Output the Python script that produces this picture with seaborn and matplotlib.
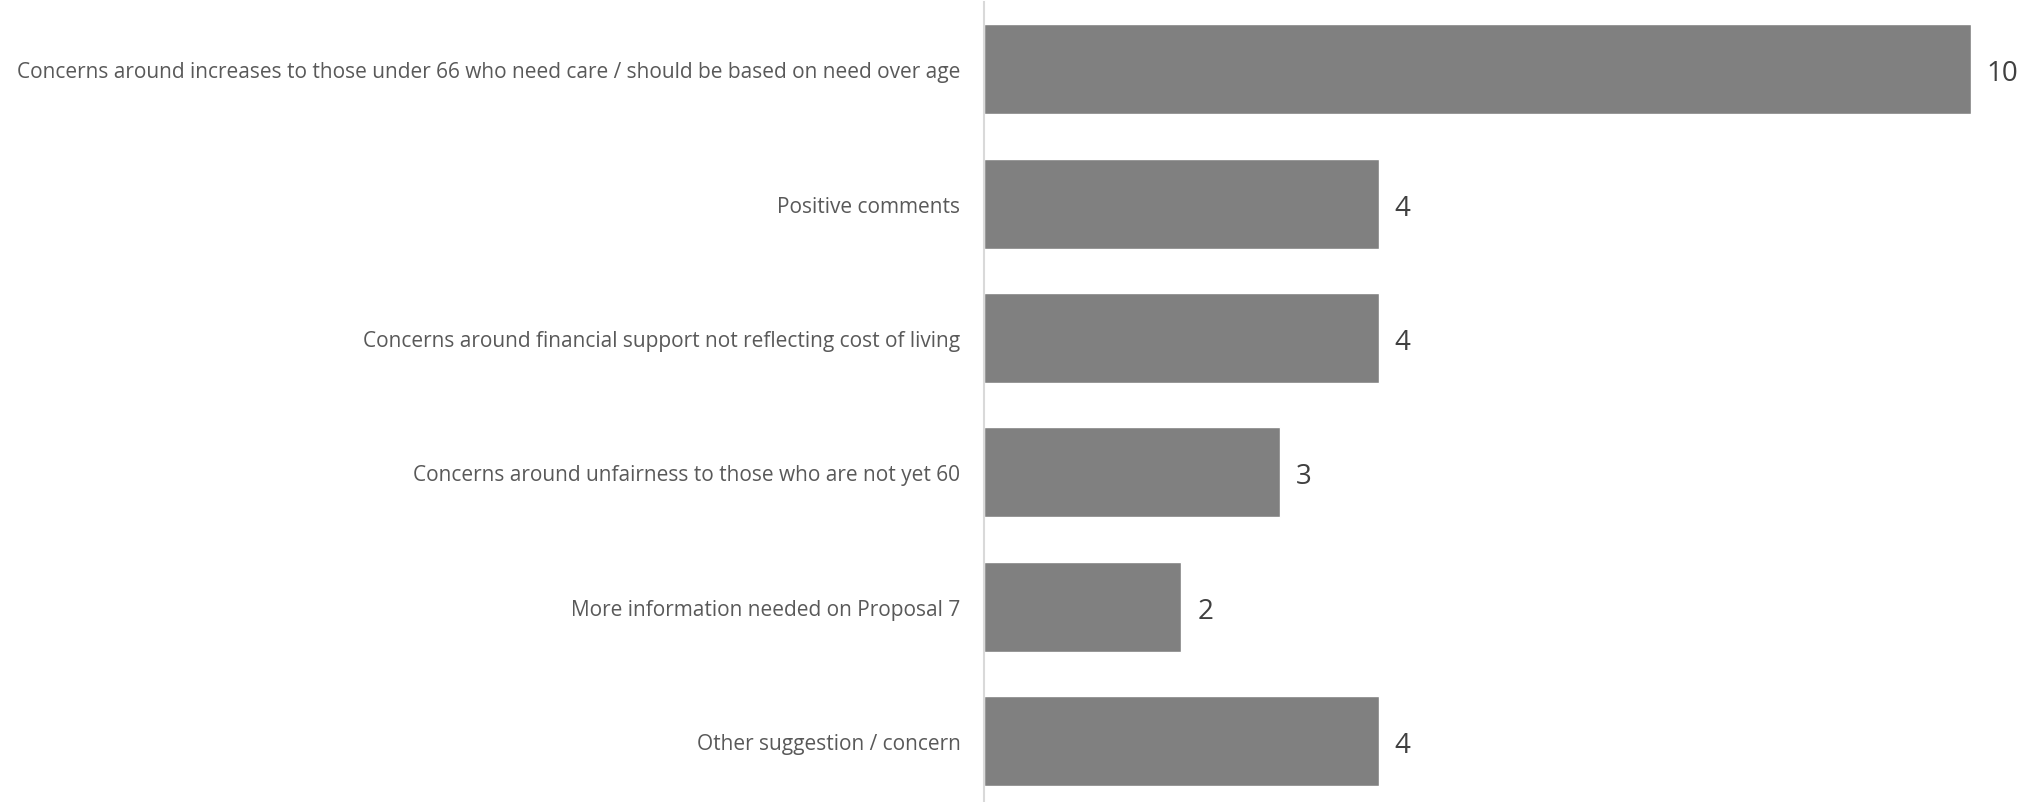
import matplotlib
matplotlib.use("Agg")
import matplotlib.pyplot as plt
import pandas as pd
import seaborn as sns

# Chart data
categories = [
    "Concerns around increases to those under 66 who need care / should be based on need over age",
    "Positive comments",
    "Concerns around financial support not reflecting cost of living",
    "Concerns around unfairness to those who are not yet 60",
    "More information needed on Proposal 7",
    "Other suggestion / concern",
]
counts = [10, 4, 4, 3, 2, 4]

df = pd.DataFrame({"category": categories, "count": counts})

sns.set_theme(style = "white")
plt.rcParams["font.family"] = ["Open Sans", "DejaVu Sans"]

W, H = 2035, 803
fig = plt.figure(figsize = (W / 100, H / 100), dpi = 100)

# axes placed in pixel terms: axis line at x=984, 10 units reach x=1971
left, right = 984, 1971
top, bottom = 3, 803
ax = fig.add_axes([left / W, 1 - bottom / H, (right - left) / W, (bottom - top) / H])

sns.barplot(data = df, x = "count", y = "category", color = "#808080", saturation = 1,
            width = 0.67, orient = "h", ax = ax)

ax.set_xlim(0, 10)
ax.set_ylim(5 + 61 / 134.4, -0.5)

for i, v in enumerate(counts):
    ax.text(v + 0.16, i + 0.03, str(v), va = "center", ha = "left", fontsize = 20,
            color = "#404040", clip_on = False)

for s in ["top", "right", "bottom"]:
    ax.spines[s].set_visible(False)
ax.spines["left"].set_color("#d9d9d9")
ax.spines["left"].set_linewidth(1.5)

ax.set_xticks([])
ax.set_xlabel("")
ax.set_ylabel("")
ax.tick_params(axis = "y", length = 0, pad = 17, labelsize = 15, labelcolor = "#595959")

fig.savefig("out.png", dpi = 100)
